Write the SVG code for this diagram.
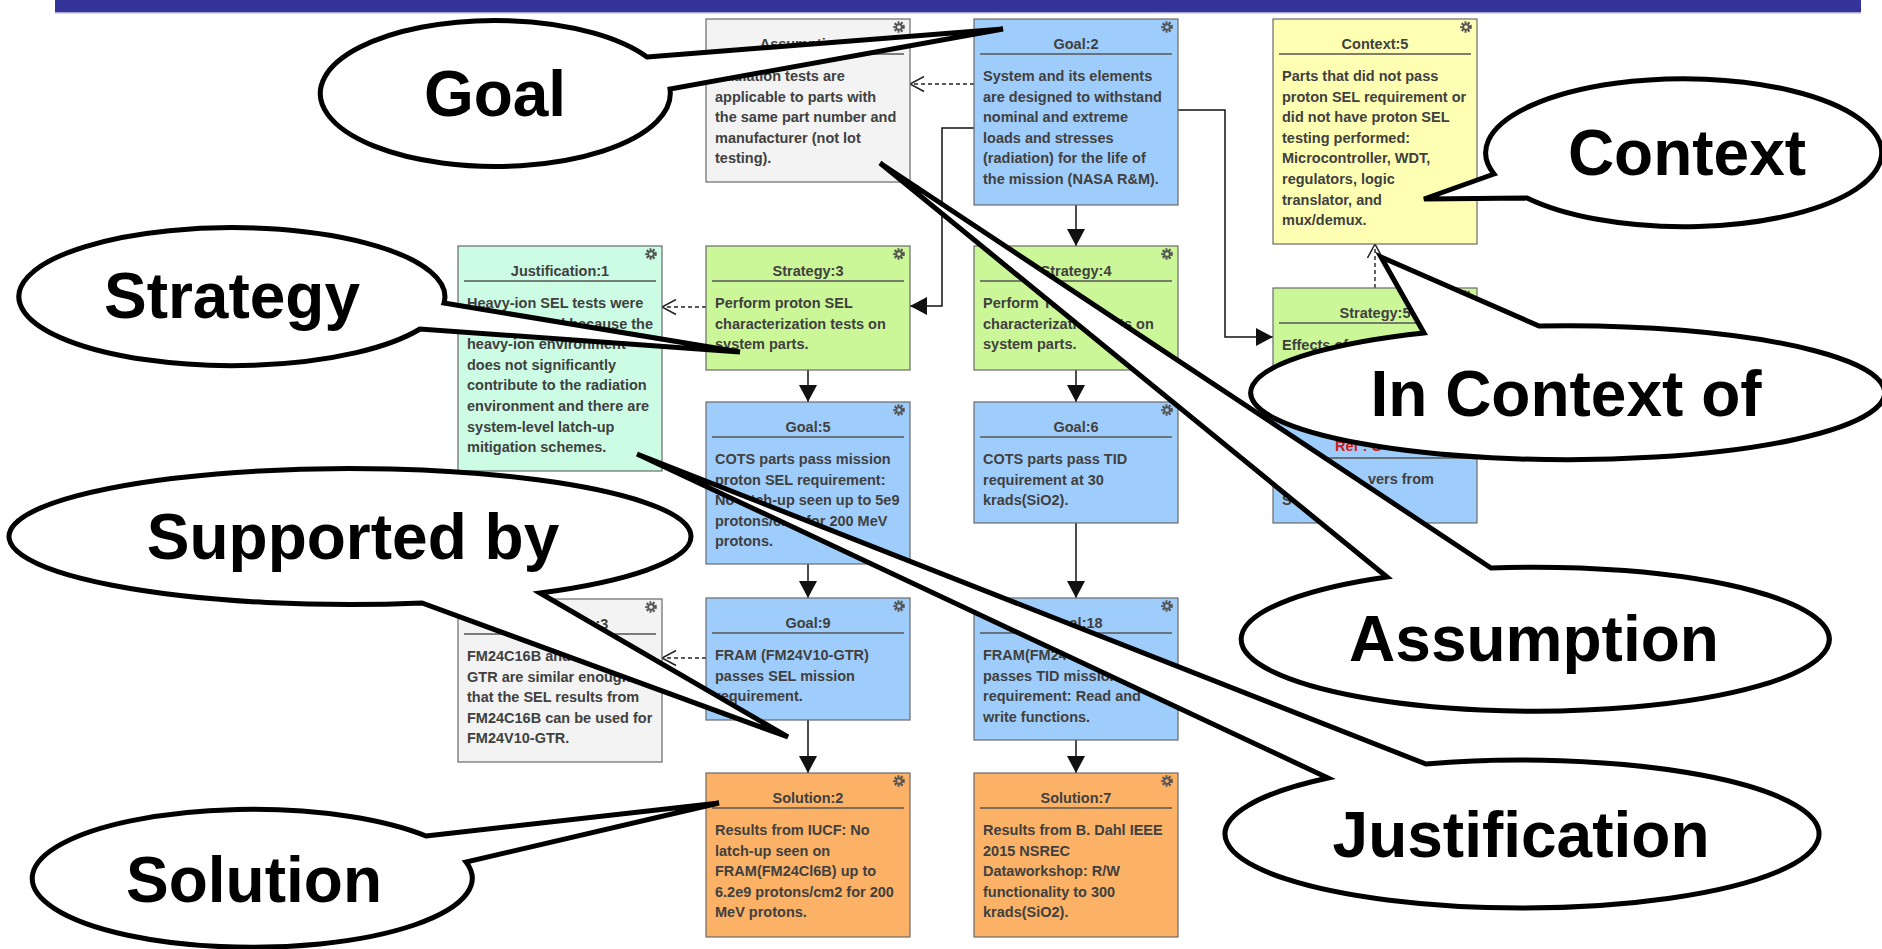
<svg xmlns="http://www.w3.org/2000/svg" width="1882" height="949" viewBox="0 0 1882 949">
<style>
.box{stroke:#6a6a6a;stroke-width:1.2}
.goal{fill:#9fcdfb}.strat{fill:#ccf798}.ctx{fill:#ffffb3}.just{fill:#ccfde4}.asm{fill:#f3f3f3}.sol{fill:#fbb267}
.sep{stroke:#555;stroke-width:1.6}
.t{font-family:"Liberation Sans",Arial,sans-serif;font-weight:bold;font-size:14.5px;fill:#404040}
.ti{text-anchor:middle}
.ref{fill:#d01818}
.c{fill:none;stroke:#111;stroke-width:1.5}
.d{fill:none;stroke:#222;stroke-width:1.4;stroke-dasharray:4 3}
.bub{fill:#fff;stroke:#000;stroke-width:5;stroke-linejoin:miter}
.bt{font-family:"Liberation Sans",Arial,sans-serif;font-weight:bold;font-size:64px;fill:#000;text-anchor:middle}
</style>
<defs>
<marker id="fa" viewBox="0 0 17 18" refX="17" refY="9" markerWidth="17" markerHeight="18" markerUnits="userSpaceOnUse" orient="auto"><path d="M0,0 L17,9 L0,18 Z" fill="#111"/></marker>
<marker id="oa" viewBox="-1 -1 17 17" refX="14" refY="7.5" markerWidth="17" markerHeight="17" markerUnits="userSpaceOnUse" orient="auto"><path d="M0,0 L14,7.5 L0,15" fill="none" stroke="#222" stroke-width="1.5"/></marker>
<symbol id="gear" viewBox="-6 -6 12 12"><circle r="3.8" fill="none" stroke="#555" stroke-width="2.4" stroke-dasharray="1.6 1.1"/><circle r="2.4" fill="none" stroke="#555" stroke-width="1.6"/></symbol>
</defs>
<rect width="1882" height="949" fill="#fff"/>
<rect x="55" y="0" width="1806" height="12" fill="#333399"/>
<rect x="55" y="12" width="1806" height="1.5" fill="#a9a9d6"/>

<g id="connectors">
<path class="d" d="M974,84 H910" marker-end="url(#oa)"/>
<path class="c" d="M974,128 H942 V306 H910" marker-end="url(#fa)"/>
<path class="c" d="M1076,205 V246" marker-end="url(#fa)"/>
<path class="c" d="M1177,110 H1225 V337 H1273" marker-end="url(#fa)"/>
<path class="d" d="M1375,288 V244" marker-end="url(#oa)"/>
<path class="d" d="M706,307 H662" marker-end="url(#oa)"/>
<path class="c" d="M808,370 V402" marker-end="url(#fa)"/>
<path class="c" d="M1076,370 V402" marker-end="url(#fa)"/>
<path class="c" d="M808,564 V598" marker-end="url(#fa)"/>
<path class="d" d="M706,658 H662" marker-end="url(#oa)"/>
<path class="c" d="M808,720 V773" marker-end="url(#fa)"/>
<path class="c" d="M1076,523 V598" marker-end="url(#fa)"/>
<path class="c" d="M1076,740 V773" marker-end="url(#fa)"/>
</g>

<g id="assumption1">
<rect class="box asm" x="706" y="19" width="204" height="163"/>
<use href="#gear" x="892" y="20" width="14" height="14"/>
<text class="t ti" x="808" y="49">Assumption:1</text>
<line class="sep" x1="712" y1="54" x2="904" y2="54"/>
<text class="t" x="715"><tspan x="715" y="81">Radiation tests are</tspan><tspan x="715" y="101.6">applicable to parts with</tspan><tspan x="715" y="122.2">the same part number and</tspan><tspan x="715" y="142.8">manufacturer (not lot</tspan><tspan x="715" y="163.4">testing).</tspan></text>
</g>

<g id="goal2">
<rect class="box goal" x="974" y="19" width="204" height="186"/>
<use href="#gear" x="1160" y="20" width="14" height="14"/>
<text class="t ti" x="1076" y="49">Goal:2</text>
<line class="sep" x1="980" y1="54" x2="1172" y2="54"/>
<text class="t"><tspan x="983" y="81">System and its elements</tspan><tspan x="983" y="101.6">are designed to withstand</tspan><tspan x="983" y="122.2">nominal and extreme</tspan><tspan x="983" y="142.8">loads and stresses</tspan><tspan x="983" y="163.4">(radiation) for the life of</tspan><tspan x="983" y="184">the mission (NASA R&amp;M).</tspan></text>
</g>

<g id="context5">
<rect class="box ctx" x="1273" y="19" width="204" height="225"/>
<use href="#gear" x="1459" y="20" width="14" height="14"/>
<text class="t ti" x="1375" y="49">Context:5</text>
<line class="sep" x1="1279" y1="54" x2="1471" y2="54"/>
<text class="t"><tspan x="1282" y="81">Parts that did not pass</tspan><tspan x="1282" y="101.6">proton SEL requirement or</tspan><tspan x="1282" y="122.2">did not have proton SEL</tspan><tspan x="1282" y="142.8">testing performed:</tspan><tspan x="1282" y="163.4">Microcontroller, WDT,</tspan><tspan x="1282" y="184">regulators, logic</tspan><tspan x="1282" y="204.6">translator, and</tspan><tspan x="1282" y="225.2">mux/demux.</tspan></text>
</g>

<g id="justification1">
<rect class="box just" x="458" y="246" width="204" height="225"/>
<use href="#gear" x="644" y="247" width="14" height="14"/>
<text class="t ti" x="560" y="276">Justification:1</text>
<line class="sep" x1="464" y1="281" x2="656" y2="281"/>
<text class="t"><tspan x="467" y="308">Heavy-ion SEL tests were</tspan><tspan x="653" y="328.6" text-anchor="end">d because the</tspan><tspan x="467" y="349.2">heavy-ion environment</tspan><tspan x="467" y="369.8">does not significantly</tspan><tspan x="467" y="390.4">contribute to the radiation</tspan><tspan x="467" y="411">environment and there are</tspan><tspan x="467" y="431.6">system-level latch-up</tspan><tspan x="467" y="452.2">mitigation schemes.</tspan></text>
</g>

<g id="strategy3">
<rect class="box strat" x="706" y="246" width="204" height="124"/>
<use href="#gear" x="892" y="247" width="14" height="14"/>
<text class="t ti" x="808" y="276">Strategy:3</text>
<line class="sep" x1="712" y1="281" x2="904" y2="281"/>
<text class="t"><tspan x="715" y="308">Perform proton SEL</tspan><tspan x="715" y="328.6">characterization tests on</tspan><tspan x="715" y="349.2">system parts.</tspan></text>
</g>

<g id="strategy4">
<rect class="box strat" x="974" y="246" width="204" height="124"/>
<use href="#gear" x="1160" y="247" width="14" height="14"/>
<text class="t ti" x="1076" y="276">Strategy:4</text>
<line class="sep" x1="980" y1="281" x2="1172" y2="281"/>
<text class="t"><tspan x="983" y="308">Perform TID</tspan><tspan x="983" y="328.6">characterization tests on</tspan><tspan x="983" y="349.2">system parts.</tspan></text>
</g>

<g id="strategy5">
<rect class="box strat" x="1273" y="288" width="204" height="82"/>
<use href="#gear" x="1459" y="289" width="14" height="14"/>
<text class="t ti" x="1375" y="318">Strategy:5</text>
<line class="sep" x1="1279" y1="323" x2="1471" y2="323"/>
<text class="t" x="1282" y="350">Effects of</text>
</g>

<g id="goal5">
<rect class="box goal" x="706" y="402" width="204" height="162"/>
<use href="#gear" x="892" y="403" width="14" height="14"/>
<text class="t ti" x="808" y="432">Goal:5</text>
<line class="sep" x1="712" y1="437" x2="904" y2="437"/>
<text class="t"><tspan x="715" y="464">COTS parts pass mission</tspan><tspan x="715" y="484.6">proton SEL requirement:</tspan><tspan x="715" y="505.2">No latch-up seen up to 5e9</tspan><tspan x="715" y="525.8">protons/cm2 for 200 MeV</tspan><tspan x="715" y="546.4">protons.</tspan></text>
</g>

<g id="goal6">
<rect class="box goal" x="974" y="402" width="204" height="121"/>
<use href="#gear" x="1160" y="403" width="14" height="14"/>
<text class="t ti" x="1076" y="432">Goal:6</text>
<line class="sep" x1="980" y1="437" x2="1172" y2="437"/>
<text class="t"><tspan x="983" y="464">COTS parts pass TID</tspan><tspan x="983" y="484.6">requirement at 30</tspan><tspan x="983" y="505.2">krads(SiO2).</tspan></text>
</g>

<g id="goalRef">
<rect class="box goal" x="1273" y="402" width="204" height="121"/>
<text class="t ref" x="1335" y="451">Ref : G</text>
<line class="sep" x1="1279" y1="458" x2="1471" y2="458"/>
<text class="t"><tspan x="1434" y="484" text-anchor="end">vers from</tspan><tspan x="1282" y="505">S</tspan></text>
</g>

<g id="goal9">
<rect class="box goal" x="706" y="598" width="204" height="122"/>
<use href="#gear" x="892" y="599" width="14" height="14"/>
<text class="t ti" x="808" y="628">Goal:9</text>
<line class="sep" x1="712" y1="633" x2="904" y2="633"/>
<text class="t"><tspan x="715" y="660">FRAM (FM24V10-GTR)</tspan><tspan x="715" y="680.6">passes SEL mission</tspan><tspan x="715" y="701.2">requirement.</tspan></text>
</g>

<g id="goal18">
<rect class="box goal" x="974" y="598" width="204" height="142"/>
<use href="#gear" x="1160" y="599" width="14" height="14"/>
<text class="t ti" x="1076" y="628">Goal:18</text>
<line class="sep" x1="980" y1="633" x2="1172" y2="633"/>
<text class="t"><tspan x="983" y="660">FRAM(FM24V10-GTR)</tspan><tspan x="983" y="680.6">passes TID mission</tspan><tspan x="983" y="701.2">requirement: Read and</tspan><tspan x="983" y="721.8">write functions.</tspan></text>
</g>

<g id="assumption3">
<rect class="box asm" x="458" y="599" width="204" height="163"/>
<use href="#gear" x="644" y="600" width="14" height="14"/>
<text class="t ti" x="560" y="629">Assumption:3</text>
<line class="sep" x1="464" y1="634" x2="656" y2="634"/>
<text class="t"><tspan x="467" y="661">FM24C16B and FM24V10-</tspan><tspan x="467" y="681.6">GTR are similar enough</tspan><tspan x="467" y="702.2">that the SEL results from</tspan><tspan x="467" y="722.8">FM24C16B can be used for</tspan><tspan x="467" y="743.4">FM24V10-GTR.</tspan></text>
</g>

<g id="solution2">
<rect class="box sol" x="706" y="773" width="204" height="164"/>
<use href="#gear" x="892" y="774" width="14" height="14"/>
<text class="t ti" x="808" y="803">Solution:2</text>
<line class="sep" x1="712" y1="808" x2="904" y2="808"/>
<text class="t"><tspan x="715" y="835">Results from IUCF: No</tspan><tspan x="715" y="855.6">latch-up seen on</tspan><tspan x="715" y="876.2">FRAM(FM24Cl6B) up to</tspan><tspan x="715" y="896.8">6.2e9 protons/cm2 for 200</tspan><tspan x="715" y="917.4">MeV protons.</tspan></text>
</g>

<g id="solution7">
<rect class="box sol" x="974" y="773" width="204" height="164"/>
<use href="#gear" x="1160" y="774" width="14" height="14"/>
<text class="t ti" x="1076" y="803">Solution:7</text>
<line class="sep" x1="980" y1="808" x2="1172" y2="808"/>
<text class="t"><tspan x="983" y="835">Results from B. Dahl IEEE</tspan><tspan x="983" y="855.6">2015 NSREC</tspan><tspan x="983" y="876.2">Dataworkshop: R/W</tspan><tspan x="983" y="896.8">functionality to 300</tspan><tspan x="983" y="917.4">krads(SiO2).</tspan></text>
</g>

<g id="callout-goal">
<path class="bub" d="M647,57 L1003,29 L670,89 A175 73 0 1 1 647,57 Z"/>
<text class="bt" x="495" y="116">Goal</text>
</g>
<g id="callout-strategy">
<path class="bub" d="M444,303 L740,352 L420,329 A213 69 0 1 1 444,303 Z"/>
<text class="bt" x="232" y="318">Strategy</text>
</g>
<g id="callout-context">
<path class="bub" d="M1494,174 L1424,199 L1527,198 A198 74 0 1 0 1494,174 Z"/>
<text class="bt" x="1687" y="175">Context</text>
</g>
<g id="callout-incontext">
<path class="bub" d="M1424,333 L1381,257 L1539,326 A317 67 0 1 1 1424,333 Z"/>
<text class="bt" x="1566" y="416">In Context of</text>
</g>
<g id="callout-supported">
<path class="bub" d="M540,593 L788,737 L422,603 A341 68 0 1 1 540,593 Z"/>
<text class="bt" x="353" y="559">Supported by</text>
</g>
<g id="callout-solution">
<path class="bub" d="M426,836 L719,803 L466,862 A220 69 0 1 1 426,836 Z"/>
<text class="bt" x="254" y="902">Solution</text>
</g>
<g id="callout-assumption">
<path class="bub" d="M1387,577 L880,163 L1491,568 A294 72 0 1 1 1387,577 Z"/>
<text class="bt" x="1534" y="661">Assumption</text>
</g>
<g id="callout-justification">
<path class="bub" d="M1328,778 L637,454 L1426,764 A297 74 0 1 1 1328,778 Z"/>
<text class="bt" x="1521" y="857">Justification</text>
</g>
</svg>
